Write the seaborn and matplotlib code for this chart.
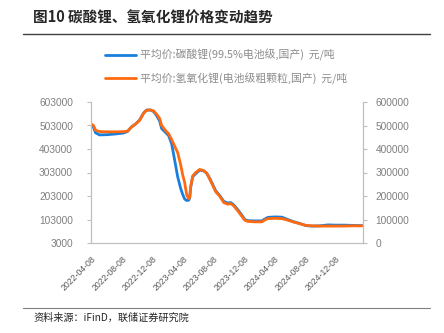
import matplotlib
matplotlib.use("Agg")
import matplotlib.pyplot as plt
import matplotlib.dates as mdates
from matplotlib.lines import Line2D
import pandas as pd
import seaborn as sns

# Weekly-ish average spot prices, yuan/tonne
dates = [
    "2022-04-08", "2022-04-16", "2022-04-24", "2022-05-10", "2022-06-11", "2022-07-13",
    "2022-08-14", "2022-08-30", "2022-09-15", "2022-10-01", "2022-10-17", "2022-11-02",
    "2022-11-14", "2022-11-30", "2022-12-12", "2022-12-24", "2023-01-05", "2023-01-13",
    "2023-01-29", "2023-02-10", "2023-02-22", "2023-03-06", "2023-03-18", "2023-03-30",
    "2023-04-07", "2023-04-15", "2023-04-23", "2023-05-01", "2023-05-05", "2023-05-09",
    "2023-05-17", "2023-05-29", "2023-06-14", "2023-06-30", "2023-07-12", "2023-07-24",
    "2023-08-05", "2023-08-17", "2023-09-02", "2023-09-18", "2023-10-04", "2023-10-16",
    "2023-10-28", "2023-11-13", "2023-11-29", "2023-12-11", "2023-12-23", "2024-01-20",
    "2024-02-17", "2024-02-29", "2024-03-12", "2024-04-09", "2024-05-07", "2024-05-31",
    "2024-06-24", "2024-07-18", "2024-08-11", "2024-09-04", "2024-10-06", "2024-11-07",
    "2024-12-09", "2025-01-10", "2025-02-11", "2025-03-23",
]
carbonate = [
    505000, 495000, 472000, 463000, 464000, 467000,
    471000, 478000, 497000, 509000, 526000, 556000,
    569000, 569000, 562000, 545000, 522000, 490000,
    473000, 460000, 425000, 356000, 285000, 235000,
    210000, 190000, 184000, 185000, 195000, 240000,
    285000, 298000, 313000, 310000, 300000, 278000,
    252000, 225000, 205000, 180000, 173000, 175000,
    165000, 145000, 122000, 103000, 98000, 97000,
    97000, 105000, 112000, 114000, 113000, 103000,
    93000, 86000, 77000, 75000, 76000, 80000,
    79000, 79000, 78000, 77000,
]
hydroxide = [
    505000, 500000, 480000, 474000, 473000, 473000,
    474000, 476000, 494000, 507000, 522000, 552000,
    565000, 566000, 562000, 548000, 530000, 500000,
    478000, 465000, 440000, 412000, 385000, 333000,
    290000, 257000, 205000, 189000, 193000, 240000,
    285000, 300000, 313000, 308000, 297000, 272000,
    245000, 218000, 199000, 172000, 165000, 168000,
    158000, 137000, 114000, 97000, 92000, 90000,
    90000, 98000, 104000, 105000, 104000, 97000,
    89000, 82000, 75000, 73000, 72000, 72000,
    72000, 72000, 73000, 73000,
]
tick_dates = ["2022-04-08", "2022-08-08", "2022-12-08", "2023-04-08", "2023-08-08",
              "2023-12-08", "2024-04-08", "2024-08-08", "2024-12-08"]
left_ticks = [3000, 103000, 203000, 303000, 403000, 503000, 603000]
right_ticks = [0, 100000, 200000, 300000, 400000, 500000, 600000]
label_carbonate = "平均价:碳酸锂(99.5%电池级,国产)  元/吨"
label_hydroxide = "平均价:氢氧化锂(电池级粗颗粒,国产)  元/吨"
title = "图10 碳酸锂、氢氧化锂价格变动趋势"
source = "资料来源：iFinD，联储证券研究院"

df = pd.DataFrame({"date": pd.to_datetime(dates), "carbonate": carbonate, "hydroxide": hydroxide})

sns.set_style("white")
plt.rcParams["font.family"] = ["Liberation Sans", "Noto Sans CJK SC", "DejaVu Sans"]

BLUE = "#1a7fdc"
ORANGE = "#ff6a10"
GRID = "#bfbfbf"
TXT = "#7f7f7f"

fig = plt.figure(figsize=(4.44, 3.33), dpi=100)
ax = fig.add_axes([91 / 444, 1 - 243 / 333, (363 - 91) / 444, (243 - 102) / 333])
ax2 = ax.twinx()

sns.lineplot(data=df, x="date", y="carbonate", ax=ax, color=BLUE, lw=2.0, legend=False)
sns.lineplot(data=df, x="date", y="hydroxide", ax=ax2, color=ORANGE, lw=2.0, legend=False)

ax.set_xlim(pd.Timestamp("2022-04-06"), pd.Timestamp("2025-03-27"))
ax.set_ylim(3000, 603000)
ax2.set_ylim(0, 600000)
ax.set_yticks(left_ticks)
ax2.set_yticks(right_ticks)
ax.set_xticks(pd.to_datetime(tick_dates))
ax.xaxis.set_major_formatter(mdates.DateFormatter("%Y-%m-%d"))
ax.set_xlabel("")
ax.set_ylabel("")
ax2.set_ylabel("")

for a in (ax, ax2):
    a.spines["top"].set_visible(False)
    for side in ("left", "right", "bottom"):
        a.spines[side].set_color(GRID)
        a.spines[side].set_linewidth(0.8)
ax.tick_params(axis="y", colors=GRID, labelcolor=TXT, labelsize=7.3, length=3, width=0.8, pad=10)
ax2.tick_params(axis="y", colors=GRID, labelcolor=TXT, labelsize=7.3, length=3, width=0.8, pad=6)
ax.tick_params(axis="x", colors=GRID, labelcolor="#595959", labelsize=6.3, length=3, width=0.8, pad=5)
for lab in ax.get_xticklabels():
    lab.set_rotation(45)
    lab.set_ha("right")
    lab.set_rotation_mode("anchor")

handles = [Line2D([], [], color=BLUE, lw=2.0), Line2D([], [], color=ORANGE, lw=2.0)]
fig.legend(handles, [label_carbonate, label_hydroxide], loc="upper left",
           bbox_to_anchor=(95 / 444, 1 - 39 / 333), frameon=False, handlelength=2.9,
           handletextpad=0.4, labelspacing=1.05, labelcolor="#8c8c8c",
           prop={"family": ["Noto Sans CJK SC"], "size": 7.8})

fig.text(33 / 444, 1 - 18 / 333, title, fontsize=10.5, fontweight="bold", va="center",
         family=["Noto Sans CJK SC", "DejaVu Sans"])
fig.add_artist(Line2D([23 / 444, 430 / 444], [1 - 34 / 333] * 2, color="#404040", lw=1.0))
fig.add_artist(Line2D([23 / 444, 430 / 444], [1 - 308 / 333] * 2, color="#808080", lw=0.8))
fig.text(33 / 444, 1 - 318 / 333, source, fontsize=7.3, va="center",
         family=["Noto Sans CJK SC", "DejaVu Sans"])

fig.savefig("out.png", dpi=100)
